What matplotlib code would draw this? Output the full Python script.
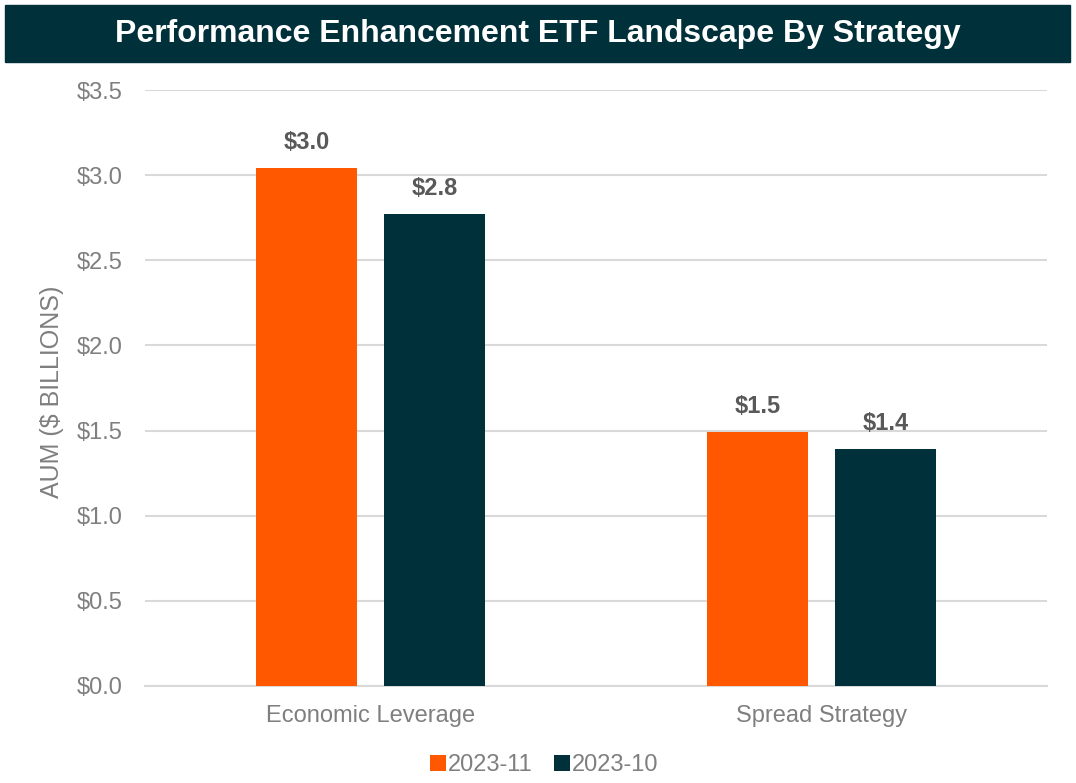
import matplotlib
matplotlib.use("Agg")
import matplotlib.pyplot as plt
import numpy as np

plt.rcParams['font.family'] = ['Liberation Sans', 'DejaVu Sans']

categories = ["Economic Leverage", "Spread Strategy"]
series_names = ["2023-11", "2023-10"]
aum_nov = [3.04, 1.49]
aum_oct = [2.77, 1.39]
y_ticks = [0.0, 0.5, 1.0, 1.5, 2.0, 2.5, 3.0, 3.5]

orange = "#FF5800"
teal = "#00303A"
grid_c = "#D9D9D9"
tick_c = "#7F7F7F"
label_c = "#595959"

fig = plt.figure(figsize=(10.76, 7.83), dpi=100)

# title banner
fig.patches.append(plt.Rectangle((5 / 1076, 1 - 62 / 783), 1065 / 1076, 57 / 783,
                                 transform=fig.transFigure, color=teal, zorder=0))
fig.text(0.5, 1 - 34 / 783, "Performance Enhancement ETF Landscape By Strategy",
         color="white", fontsize=23, fontweight="bold", ha="center", va="center")

ax = fig.add_axes([145 / 1076, 1 - 686 / 783, 902 / 1076, 596 / 783])
x = np.arange(len(categories))
w = 0.222
off = 0.142
b1 = ax.bar(x - off, aum_nov, w, color=orange, label=series_names[0], zorder=3)
b2 = ax.bar(x + off, aum_oct, w, color=teal, label=series_names[1], zorder=3)

for bars in (b1, b2):
    for r in bars:
        ax.annotate(f"${r.get_height():.1f}", (r.get_x() + r.get_width() / 2, r.get_height()),
                    xytext=(0, 10), textcoords="offset points", ha="center", va="bottom",
                    fontsize=17, fontweight="bold", color=label_c)

ax.set_xlim(-0.5, 1.5)
ax.set_ylim(0, 3.5)
ax.set_yticks(y_ticks)
ax.set_yticklabels([f"${v:.1f}" for v in y_ticks])
ax.set_xticks(x)
ax.set_xticklabels(categories)
ax.tick_params(axis="y", length=0, pad=16, labelsize=17, labelcolor=tick_c)
ax.tick_params(axis="x", length=0, pad=14, labelsize=17, labelcolor=tick_c)
ax.yaxis.grid(True, color=grid_c, linewidth=1.5, zorder=0)
ax.set_axisbelow(True)
for s in ["top", "right", "left"]:
    ax.spines[s].set_visible(False)
ax.spines["bottom"].set_color(grid_c)
ax.spines["bottom"].set_linewidth(1.5)

fig.text(52 / 1076, 1 - 392 / 783, "AUM ($ BILLIONS)", rotation=90, fontsize=18,
         color=tick_c, ha="center", va="center")

fig.legend(handles=[b1, b2], labels=series_names, loc="center",
           bbox_to_anchor=(0.506, 1 - 765 / 783), ncol=2, frameon=False,
           fontsize=17, labelcolor=tick_c, handlelength=0.65, handleheight=0.65,
           handletextpad=0.1, columnspacing=0.9)

fig.savefig("out.png", dpi=100)
